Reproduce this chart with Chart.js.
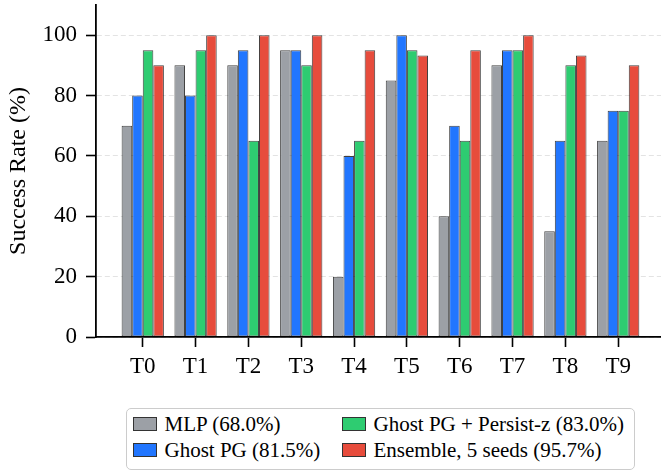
<!DOCTYPE html>
<html><head><meta charset="utf-8">
<script src="https://cdn.jsdelivr.net/npm/chart.js@4.4.1/dist/chart.umd.min.js"></script>
<style>
html,body{margin:0;padding:0;background:#fff;}
#wrap{position:relative;width:661px;height:472px;overflow:hidden;}
canvas{position:absolute;left:0;top:0;}
#legend{position:absolute;left:126px;top:408px;width:509px;height:62px;box-sizing:border-box;border:1.5px solid #cccccc;border-radius:5px;background:#fff;font-family:'Liberation Serif','Times New Roman',serif;font-size:21px;color:#000;}
.item{position:absolute;display:flex;align-items:center;height:26px;white-space:nowrap;line-height:26px;}
.sw{width:24px;height:14px;box-sizing:border-box;border:1px solid #333;margin-right:8px;flex:none;}
</style></head>
<body><div id="wrap"><canvas id="c" width="661" height="472"></canvas><div id="legend"></div></div>
<script>
const categories = ['T0','T1','T2','T3','T4','T5','T6','T7','T8','T9'];
const seriesNames = ['MLP (68.0%)','Ghost PG (81.5%)','Ghost PG + Persist-z (83.0%)','Ensemble, 5 seeds (95.7%)'];
const mlp = [70,90,90,95,20,85,40,90,35,65];
const ghostPG = [80,80,95,95,60,100,70,95,65,75];
const persistZ = [95,95,65,90,65,95,65,95,90,75];
const ensemble = [90,100,100,100,95,93.3,95,100,93.3,90];
const yTicks = [0,20,40,60,80,100];
const colors = ['#9ca0a6','#2176ff','#2ecc71','#e74c3c'];

const FONT = "'Liberation Serif','Times New Roman',serif";
const series = [mlp, ghostPG, persistZ, ensemble];
const datasets = series.map((vals, k) => ({
  label: seriesNames[k],
  data: vals.map((v, i) => ({x: i, y: v})),
  backgroundColor: colors[k],
  borderColor: 'rgba(0,0,0,0.75)',
  borderWidth: 1,
  borderSkipped: false,
  barPercentage: 1.0,
  categoryPercentage: 0.8
}));

const chart = new Chart(document.getElementById('c'), {
  type: 'bar',
  data: {datasets},
  options: {
    responsive: false,
    devicePixelRatio: 1,
    animation: false,
    layout: {padding: {top: 5, left: 0, right: 0, bottom: 0}},
    plugins: {legend: {display: false}, tooltip: {enabled: false}},
    scales: {
      x: {
        type: 'linear',
        offset: false,
        min: -0.885,
        max: 9.81,
        afterBuildTicks: (s) => { s.ticks = categories.map((_, i) => ({value: i})); },
        afterFit: (s) => { s.height = 135; s.paddingLeft = 0; s.paddingRight = 0; },
        ticks: {
          autoSkip: false,
          maxRotation: 0,
          color: '#000',
          padding: 6,
          font: {family: FONT, size: 23},
          callback: (v) => categories[v]
        },
        grid: {display: true, offset: false, drawOnChartArea: false, drawTicks: true, tickLength: 10, tickWidth: 1.6, tickColor: '#000'},
        border: {display: true, color: '#000', width: 1.8, z: 1}
      },
      y: {
        min: 0,
        max: 110,
        afterBuildTicks: (s) => { s.ticks = yTicks.map(v => ({value: v})); },
        afterFit: (s) => { s.width = 96; s.paddingTop = 0; s.paddingBottom = 0; },
        ticks: {
          color: '#000',
          padding: 9,
          font: {family: FONT, size: 23}
        },
        grid: {display: true, drawOnChartArea: true, drawTicks: true, tickLength: 10, tickWidth: 1.6, tickColor: '#000', color: '#e3e3e3', lineWidth: 1},
        border: {display: true, color: '#000', width: 1.8, dash: [5, 3], z: 1},
        title: {display: true, text: 'Success Rate (%)', color: '#000', font: {family: FONT, size: 24}, padding: {top: 4, bottom: 0}}
      }
    }
  }
});

// HTML legend built from the chart's datasets (column-major, 2 rows)
const legend = document.getElementById('legend');
const colX = [5.5, 214.5];
const rowY = [1.5, 27.5];
chart.data.datasets.forEach((ds, k) => {
  const item = document.createElement('div');
  item.className = 'item';
  item.style.left = colX[Math.floor(k / 2)] + 'px';
  item.style.top = rowY[k % 2] + 'px';
  const sw = document.createElement('span');
  sw.className = 'sw';
  sw.style.background = ds.backgroundColor;
  const tx = document.createElement('span');
  tx.textContent = ds.label;
  item.appendChild(sw);
  item.appendChild(tx);
  legend.appendChild(item);
});
</script>
</body></html>
